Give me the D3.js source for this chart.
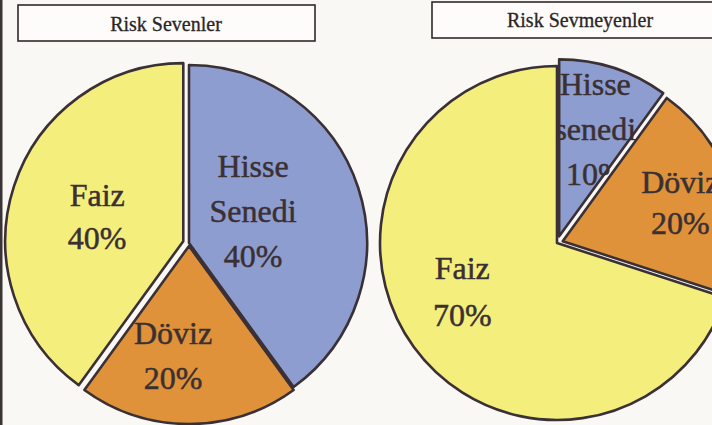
<!DOCTYPE html>
<html>
<head>
<meta charset="utf-8">
<script src="https://cdn.jsdelivr.net/npm/d3@7"></script>
<style>
  html, body { margin: 0; padding: 0; background: #f9f8f5; }
  svg { display: block; }
</style>
</head>
<body>
<div id="chart"></div>
<script>
// veriler
const categories = ["Hisse Senedi", "Döviz", "Faiz"];
const sevenlerValues = [40, 20, 40];
const sevmeyenlerValues = [10, 20, 70];
const sevenlerLabels = [["Hisse", "Senedi", "40%"], ["Döviz", "20%"], ["Faiz", "40%"]];
const sevmeyenlerLabels = [["Hisse", "senedi", "10%"], ["Döviz", "20%"], ["Faiz", "70%"]];
const titles = ["Risk Sevenler", "Risk Sevmeyenler"];

const colors = d3.scaleOrdinal()
    .domain(categories)
    .range(["#8e9dcf", "#df923a", "#f4ef7c"]);

const svg = d3.select("#chart").append("svg")
    .attr("width", 712)
    .attr("height", 425);

// taranmış sayfanın sol kenarındaki koyu çizgi
svg.append("line")
    .attr("x1", 1).attr("x2", 1)
    .attr("y1", 0).attr("y2", 425)
    .attr("stroke", "#3a3434")
    .attr("stroke-width", 3);

// her grafik için yerleşim ayarları
const panels = [
  {
    title: titles[0], values: sevenlerValues, labels: sevenlerLabels,
    box: [18, 5, 297, 36], titleX: 166, titleY: 31,
    cx: 189, cy: 243, r: 178,
    explode: [0, 3, 6],
    nudge: [[-29, -2], [-16, 12], [7, 6]],
    lineH: [45, 45, 43]
  },
  {
    title: titles[1], values: sevmeyenlerValues, labels: sevmeyenlerLabels,
    box: [432, 2, 300, 36], titleX: 580, titleY: 27,
    cx: 557, cy: 243, r: 177,
    explode: [7, 6, 0],
    nudge: [[6, -15], [25, -9], [-16, -9]],
    lineH: [45, 41, 47]
  }
];

const pie = d3.pie().sort(null).value(d => d);

panels.forEach(p => {
  const g = svg.append("g");

  // başlık kutusu
  g.append("rect")
      .attr("x", p.box[0]).attr("y", p.box[1])
      .attr("width", p.box[2]).attr("height", p.box[3])
      .attr("fill", "#fdfcfa")
      .attr("stroke", "#2e2a2a")
      .attr("stroke-width", 1.6);
  g.append("text")
      .attr("x", p.titleX).attr("y", p.titleY)
      .attr("text-anchor", "middle")
      .style("font-family", "'Liberation Serif', 'Times New Roman', serif")
      .style("font-size", "20px")
      .style("fill", "#2b2626")
      .style("stroke", "#2b2626")
      .style("stroke-width", "0.3px")
      .text(p.title);

  const arcs = pie(p.values);
  const arc = d3.arc().innerRadius(0).outerRadius(p.r);
  const lr = p.r * 0.55;
  const labelArc = d3.arc().innerRadius(lr).outerRadius(lr);

  const shift = (d, i) => {
    const a = (d.startAngle + d.endAngle) / 2;
    return [Math.sin(a) * p.explode[i], -Math.cos(a) * p.explode[i]];
  };

  const slices = g.selectAll("g.slice")
      .data(arcs)
      .enter()
      .append("g")
      .attr("class", "slice")
      .attr("transform", (d, i) => {
        const s = shift(d, i);
        return `translate(${p.cx + s[0]},${p.cy + s[1]})`;
      });

  slices.append("path")
      .attr("d", arc)
      .style("fill", (d, i) => colors(categories[i]))
      .style("stroke", "#3a3035")
      .style("stroke-width", "2.6px")
      .style("stroke-linejoin", "round");

  // etiketler
  slices.each(function(d, i) {
    const c = labelArc.centroid(d);
    const lines = p.labels[i];
    const lh = p.lineH[i];
    const x = c[0] + p.nudge[i][0];
    const y = c[1] + p.nudge[i][1] - (lines.length - 1) * lh / 2 + 11;
    const t = d3.select(this).append("text")
        .attr("text-anchor", "middle")
        .style("font-family", "'Liberation Serif', 'Times New Roman', serif")
        .style("font-size", "32px")
        .style("fill", "#3a3033")
        .style("stroke", "#3a3033")
        .style("stroke-width", "0.5px");
    lines.forEach((ln, k) => {
      t.append("tspan")
          .attr("x", x)
          .attr("y", y + k * lh)
          .text(ln);
    });
  });
});
</script>
</body>
</html>
